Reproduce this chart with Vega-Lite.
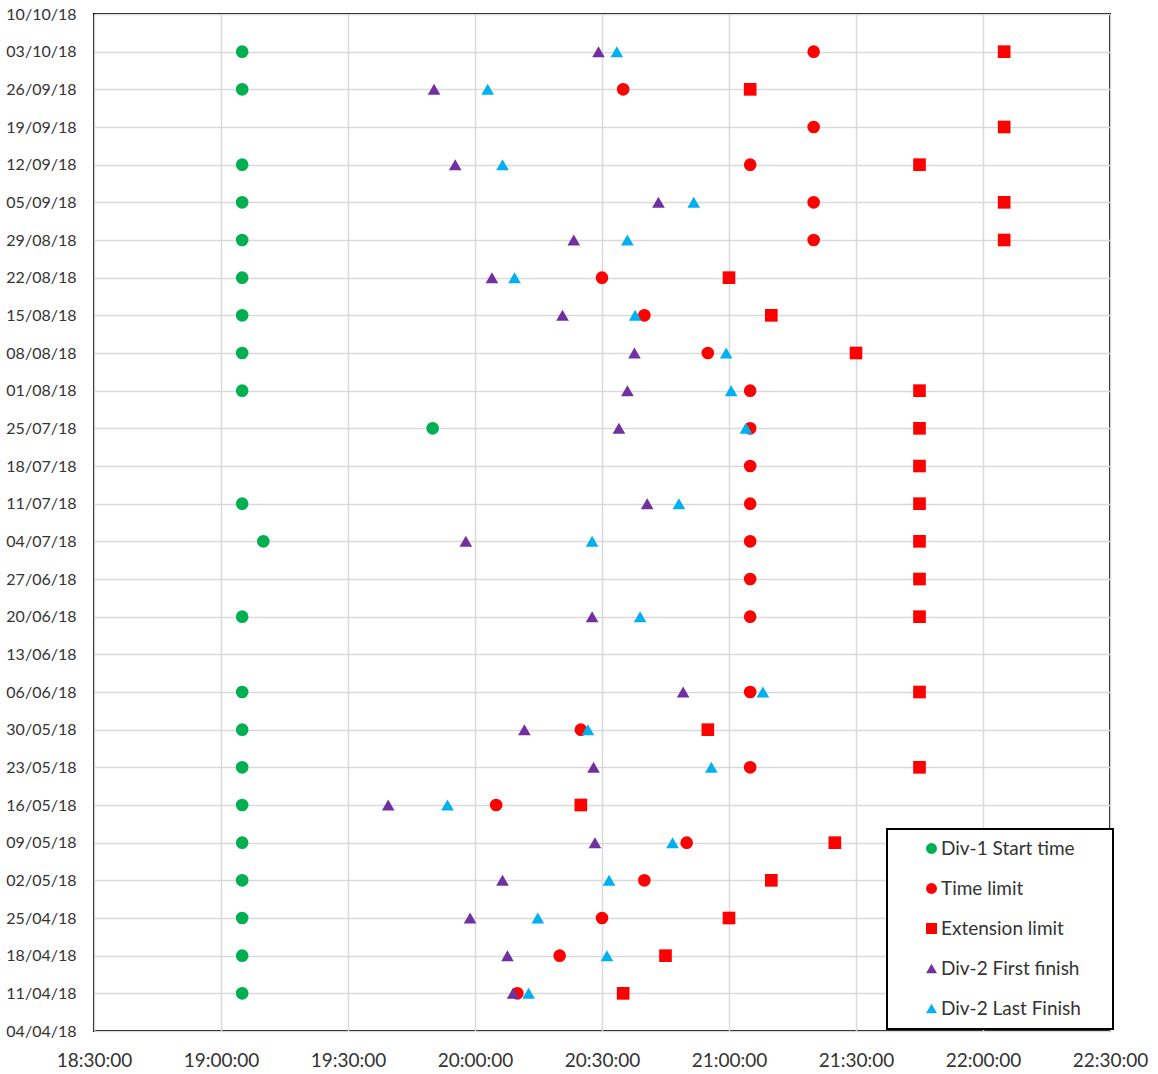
{
  "$schema": "https://vega.github.io/schema/vega-lite/v6.json",
  "width": 1016,
  "height": 1017,
  "autosize": "none",
  "padding": {"left": 94, "top": 14, "right": 48, "bottom": 43},
  "background": "white",
  "config": {
    "font": "Lato",
    "view": {"stroke": "black", "strokeWidth": 2},
    "legend": {"strokeColor": "black", "strokeWidth": 2, "fillColor": "white", "padding": 10, "symbolSize": 120, "symbolOffset": 25, "labelOffset": 0, "rowPadding": 20, "labelFontSize": 19, "labelColor": "#333333", "symbolStrokeWidth": 0, "titleOrient": "right", "titlePadding": 22, "titleFontSize": 18}
  },
  "data": {"values": [
    {"date": "2018-10-03T00:00:00", "series": "Div-1 Start time", "time": "2018-01-01T19:05:00"},
    {"date": "2018-10-03T00:00:00", "series": "Time limit", "time": "2018-01-01T21:20:00"},
    {"date": "2018-10-03T00:00:00", "series": "Extension limit", "time": "2018-01-01T22:05:00"},
    {"date": "2018-10-03T00:00:00", "series": "Div-2 First finish", "time": "2018-01-01T20:29:10"},
    {"date": "2018-10-03T00:00:00", "series": "Div-2 Last Finish", "time": "2018-01-01T20:33:30"},
    {"date": "2018-09-26T00:00:00", "series": "Div-1 Start time", "time": "2018-01-01T19:05:00"},
    {"date": "2018-09-26T00:00:00", "series": "Time limit", "time": "2018-01-01T20:35:00"},
    {"date": "2018-09-26T00:00:00", "series": "Extension limit", "time": "2018-01-01T21:05:00"},
    {"date": "2018-09-26T00:00:00", "series": "Div-2 First finish", "time": "2018-01-01T19:50:20"},
    {"date": "2018-09-26T00:00:00", "series": "Div-2 Last Finish", "time": "2018-01-01T20:03:00"},
    {"date": "2018-09-19T00:00:00", "series": "Time limit", "time": "2018-01-01T21:20:00"},
    {"date": "2018-09-19T00:00:00", "series": "Extension limit", "time": "2018-01-01T22:05:00"},
    {"date": "2018-09-12T00:00:00", "series": "Div-1 Start time", "time": "2018-01-01T19:05:00"},
    {"date": "2018-09-12T00:00:00", "series": "Time limit", "time": "2018-01-01T21:05:00"},
    {"date": "2018-09-12T00:00:00", "series": "Extension limit", "time": "2018-01-01T21:45:00"},
    {"date": "2018-09-12T00:00:00", "series": "Div-2 First finish", "time": "2018-01-01T19:55:20"},
    {"date": "2018-09-12T00:00:00", "series": "Div-2 Last Finish", "time": "2018-01-01T20:06:30"},
    {"date": "2018-09-05T00:00:00", "series": "Div-1 Start time", "time": "2018-01-01T19:05:00"},
    {"date": "2018-09-05T00:00:00", "series": "Time limit", "time": "2018-01-01T21:20:00"},
    {"date": "2018-09-05T00:00:00", "series": "Extension limit", "time": "2018-01-01T22:05:00"},
    {"date": "2018-09-05T00:00:00", "series": "Div-2 First finish", "time": "2018-01-01T20:43:20"},
    {"date": "2018-09-05T00:00:00", "series": "Div-2 Last Finish", "time": "2018-01-01T20:51:40"},
    {"date": "2018-08-29T00:00:00", "series": "Div-1 Start time", "time": "2018-01-01T19:05:00"},
    {"date": "2018-08-29T00:00:00", "series": "Time limit", "time": "2018-01-01T21:20:00"},
    {"date": "2018-08-29T00:00:00", "series": "Extension limit", "time": "2018-01-01T22:05:00"},
    {"date": "2018-08-29T00:00:00", "series": "Div-2 First finish", "time": "2018-01-01T20:23:20"},
    {"date": "2018-08-29T00:00:00", "series": "Div-2 Last Finish", "time": "2018-01-01T20:36:00"},
    {"date": "2018-08-22T00:00:00", "series": "Div-1 Start time", "time": "2018-01-01T19:05:00"},
    {"date": "2018-08-22T00:00:00", "series": "Time limit", "time": "2018-01-01T20:30:00"},
    {"date": "2018-08-22T00:00:00", "series": "Extension limit", "time": "2018-01-01T21:00:00"},
    {"date": "2018-08-22T00:00:00", "series": "Div-2 First finish", "time": "2018-01-01T20:04:00"},
    {"date": "2018-08-22T00:00:00", "series": "Div-2 Last Finish", "time": "2018-01-01T20:09:20"},
    {"date": "2018-08-15T00:00:00", "series": "Div-1 Start time", "time": "2018-01-01T19:05:00"},
    {"date": "2018-08-15T00:00:00", "series": "Time limit", "time": "2018-01-01T20:40:00"},
    {"date": "2018-08-15T00:00:00", "series": "Extension limit", "time": "2018-01-01T21:10:00"},
    {"date": "2018-08-15T00:00:00", "series": "Div-2 First finish", "time": "2018-01-01T20:20:40"},
    {"date": "2018-08-15T00:00:00", "series": "Div-2 Last Finish", "time": "2018-01-01T20:37:50"},
    {"date": "2018-08-08T00:00:00", "series": "Div-1 Start time", "time": "2018-01-01T19:05:00"},
    {"date": "2018-08-08T00:00:00", "series": "Time limit", "time": "2018-01-01T20:55:00"},
    {"date": "2018-08-08T00:00:00", "series": "Extension limit", "time": "2018-01-01T21:30:00"},
    {"date": "2018-08-08T00:00:00", "series": "Div-2 First finish", "time": "2018-01-01T20:37:40"},
    {"date": "2018-08-08T00:00:00", "series": "Div-2 Last Finish", "time": "2018-01-01T20:59:20"},
    {"date": "2018-08-01T00:00:00", "series": "Div-1 Start time", "time": "2018-01-01T19:05:00"},
    {"date": "2018-08-01T00:00:00", "series": "Time limit", "time": "2018-01-01T21:05:00"},
    {"date": "2018-08-01T00:00:00", "series": "Extension limit", "time": "2018-01-01T21:45:00"},
    {"date": "2018-08-01T00:00:00", "series": "Div-2 First finish", "time": "2018-01-01T20:36:00"},
    {"date": "2018-08-01T00:00:00", "series": "Div-2 Last Finish", "time": "2018-01-01T21:00:30"},
    {"date": "2018-07-25T00:00:00", "series": "Div-1 Start time", "time": "2018-01-01T19:50:00"},
    {"date": "2018-07-25T00:00:00", "series": "Time limit", "time": "2018-01-01T21:05:00"},
    {"date": "2018-07-25T00:00:00", "series": "Extension limit", "time": "2018-01-01T21:45:00"},
    {"date": "2018-07-25T00:00:00", "series": "Div-2 First finish", "time": "2018-01-01T20:34:00"},
    {"date": "2018-07-25T00:00:00", "series": "Div-2 Last Finish", "time": "2018-01-01T21:04:00"},
    {"date": "2018-07-18T00:00:00", "series": "Time limit", "time": "2018-01-01T21:05:00"},
    {"date": "2018-07-18T00:00:00", "series": "Extension limit", "time": "2018-01-01T21:45:00"},
    {"date": "2018-07-11T00:00:00", "series": "Div-1 Start time", "time": "2018-01-01T19:05:00"},
    {"date": "2018-07-11T00:00:00", "series": "Time limit", "time": "2018-01-01T21:05:00"},
    {"date": "2018-07-11T00:00:00", "series": "Extension limit", "time": "2018-01-01T21:45:00"},
    {"date": "2018-07-11T00:00:00", "series": "Div-2 First finish", "time": "2018-01-01T20:40:40"},
    {"date": "2018-07-11T00:00:00", "series": "Div-2 Last Finish", "time": "2018-01-01T20:48:10"},
    {"date": "2018-07-04T00:00:00", "series": "Div-1 Start time", "time": "2018-01-01T19:10:00"},
    {"date": "2018-07-04T00:00:00", "series": "Time limit", "time": "2018-01-01T21:05:00"},
    {"date": "2018-07-04T00:00:00", "series": "Extension limit", "time": "2018-01-01T21:45:00"},
    {"date": "2018-07-04T00:00:00", "series": "Div-2 First finish", "time": "2018-01-01T19:57:50"},
    {"date": "2018-07-04T00:00:00", "series": "Div-2 Last Finish", "time": "2018-01-01T20:27:40"},
    {"date": "2018-06-27T00:00:00", "series": "Time limit", "time": "2018-01-01T21:05:00"},
    {"date": "2018-06-27T00:00:00", "series": "Extension limit", "time": "2018-01-01T21:45:00"},
    {"date": "2018-06-20T00:00:00", "series": "Div-1 Start time", "time": "2018-01-01T19:05:00"},
    {"date": "2018-06-20T00:00:00", "series": "Time limit", "time": "2018-01-01T21:05:00"},
    {"date": "2018-06-20T00:00:00", "series": "Extension limit", "time": "2018-01-01T21:45:00"},
    {"date": "2018-06-20T00:00:00", "series": "Div-2 First finish", "time": "2018-01-01T20:27:40"},
    {"date": "2018-06-20T00:00:00", "series": "Div-2 Last Finish", "time": "2018-01-01T20:39:00"},
    {"date": "2018-06-06T00:00:00", "series": "Div-1 Start time", "time": "2018-01-01T19:05:00"},
    {"date": "2018-06-06T00:00:00", "series": "Time limit", "time": "2018-01-01T21:05:00"},
    {"date": "2018-06-06T00:00:00", "series": "Extension limit", "time": "2018-01-01T21:45:00"},
    {"date": "2018-06-06T00:00:00", "series": "Div-2 First finish", "time": "2018-01-01T20:49:10"},
    {"date": "2018-06-06T00:00:00", "series": "Div-2 Last Finish", "time": "2018-01-01T21:08:00"},
    {"date": "2018-05-30T00:00:00", "series": "Div-1 Start time", "time": "2018-01-01T19:05:00"},
    {"date": "2018-05-30T00:00:00", "series": "Time limit", "time": "2018-01-01T20:25:00"},
    {"date": "2018-05-30T00:00:00", "series": "Extension limit", "time": "2018-01-01T20:55:00"},
    {"date": "2018-05-30T00:00:00", "series": "Div-2 First finish", "time": "2018-01-01T20:11:40"},
    {"date": "2018-05-30T00:00:00", "series": "Div-2 Last Finish", "time": "2018-01-01T20:26:40"},
    {"date": "2018-05-23T00:00:00", "series": "Div-1 Start time", "time": "2018-01-01T19:05:00"},
    {"date": "2018-05-23T00:00:00", "series": "Time limit", "time": "2018-01-01T21:05:00"},
    {"date": "2018-05-23T00:00:00", "series": "Extension limit", "time": "2018-01-01T21:45:00"},
    {"date": "2018-05-23T00:00:00", "series": "Div-2 First finish", "time": "2018-01-01T20:28:00"},
    {"date": "2018-05-23T00:00:00", "series": "Div-2 Last Finish", "time": "2018-01-01T20:55:50"},
    {"date": "2018-05-16T00:00:00", "series": "Div-1 Start time", "time": "2018-01-01T19:05:00"},
    {"date": "2018-05-16T00:00:00", "series": "Time limit", "time": "2018-01-01T20:05:00"},
    {"date": "2018-05-16T00:00:00", "series": "Extension limit", "time": "2018-01-01T20:25:00"},
    {"date": "2018-05-16T00:00:00", "series": "Div-2 First finish", "time": "2018-01-01T19:39:30"},
    {"date": "2018-05-16T00:00:00", "series": "Div-2 Last Finish", "time": "2018-01-01T19:53:30"},
    {"date": "2018-05-09T00:00:00", "series": "Div-1 Start time", "time": "2018-01-01T19:05:00"},
    {"date": "2018-05-09T00:00:00", "series": "Time limit", "time": "2018-01-01T20:50:00"},
    {"date": "2018-05-09T00:00:00", "series": "Extension limit", "time": "2018-01-01T21:25:00"},
    {"date": "2018-05-09T00:00:00", "series": "Div-2 First finish", "time": "2018-01-01T20:28:20"},
    {"date": "2018-05-09T00:00:00", "series": "Div-2 Last Finish", "time": "2018-01-01T20:46:40"},
    {"date": "2018-05-02T00:00:00", "series": "Div-1 Start time", "time": "2018-01-01T19:05:00"},
    {"date": "2018-05-02T00:00:00", "series": "Time limit", "time": "2018-01-01T20:40:00"},
    {"date": "2018-05-02T00:00:00", "series": "Extension limit", "time": "2018-01-01T21:10:00"},
    {"date": "2018-05-02T00:00:00", "series": "Div-2 First finish", "time": "2018-01-01T20:06:30"},
    {"date": "2018-05-02T00:00:00", "series": "Div-2 Last Finish", "time": "2018-01-01T20:31:40"},
    {"date": "2018-04-25T00:00:00", "series": "Div-1 Start time", "time": "2018-01-01T19:05:00"},
    {"date": "2018-04-25T00:00:00", "series": "Time limit", "time": "2018-01-01T20:30:00"},
    {"date": "2018-04-25T00:00:00", "series": "Extension limit", "time": "2018-01-01T21:00:00"},
    {"date": "2018-04-25T00:00:00", "series": "Div-2 First finish", "time": "2018-01-01T19:58:50"},
    {"date": "2018-04-25T00:00:00", "series": "Div-2 Last Finish", "time": "2018-01-01T20:14:50"},
    {"date": "2018-04-18T00:00:00", "series": "Div-1 Start time", "time": "2018-01-01T19:05:00"},
    {"date": "2018-04-18T00:00:00", "series": "Time limit", "time": "2018-01-01T20:20:00"},
    {"date": "2018-04-18T00:00:00", "series": "Extension limit", "time": "2018-01-01T20:45:00"},
    {"date": "2018-04-18T00:00:00", "series": "Div-2 First finish", "time": "2018-01-01T20:07:40"},
    {"date": "2018-04-18T00:00:00", "series": "Div-2 Last Finish", "time": "2018-01-01T20:31:10"},
    {"date": "2018-04-11T00:00:00", "series": "Div-1 Start time", "time": "2018-01-01T19:05:00"},
    {"date": "2018-04-11T00:00:00", "series": "Time limit", "time": "2018-01-01T20:10:00"},
    {"date": "2018-04-11T00:00:00", "series": "Extension limit", "time": "2018-01-01T20:35:00"},
    {"date": "2018-04-11T00:00:00", "series": "Div-2 First finish", "time": "2018-01-01T20:09:00"},
    {"date": "2018-04-11T00:00:00", "series": "Div-2 Last Finish", "time": "2018-01-01T20:12:40"}
  ]},
  "mark": {"type": "point", "filled": true, "opacity": 1, "size": 160},
  "encoding": {
    "x": {
      "field": "time", "type": "temporal",
      "scale": {"domain": [{"year": 2018, "month": 1, "date": 1, "hours": 18, "minutes": 30}, {"year": 2018, "month": 1, "date": 1, "hours": 22, "minutes": 30}], "nice": false},
      "axis": {
        "title": null, "format": "%H:%M:%S", "labelFontSize": 19, "labelPadding": 20, "ticks": false, "domain": false,
        "grid": true, "gridColor": "#d9d9d9", "gridWidth": 1.5, "labelColor": "#333333", "labelFlush": false, "labelOverlap": false,
        "values": [
          {"year": 2018, "month": 1, "date": 1, "hours": 18, "minutes": 30},
          {"year": 2018, "month": 1, "date": 1, "hours": 19, "minutes": 0},
          {"year": 2018, "month": 1, "date": 1, "hours": 19, "minutes": 30},
          {"year": 2018, "month": 1, "date": 1, "hours": 20, "minutes": 0},
          {"year": 2018, "month": 1, "date": 1, "hours": 20, "minutes": 30},
          {"year": 2018, "month": 1, "date": 1, "hours": 21, "minutes": 0},
          {"year": 2018, "month": 1, "date": 1, "hours": 21, "minutes": 30},
          {"year": 2018, "month": 1, "date": 1, "hours": 22, "minutes": 0},
          {"year": 2018, "month": 1, "date": 1, "hours": 22, "minutes": 30}
        ]
      }
    },
    "y": {
      "field": "date", "type": "temporal",
      "scale": {"domain": [{"year": 2018, "month": 4, "date": 4}, {"year": 2018, "month": 10, "date": 10}], "nice": false},
      "axis": {
        "title": null, "format": "%d/%m/%y", "labelFontSize": 16, "labelPadding": 18, "ticks": false, "domain": false,
        "grid": true, "gridColor": "#d9d9d9", "gridWidth": 1.5, "labelColor": "#333333", "labelFlush": false, "labelOverlap": false,
        "values": [
          {"year": 2018, "month": 4, "date": 4}, {"year": 2018, "month": 4, "date": 11}, {"year": 2018, "month": 4, "date": 18}, {"year": 2018, "month": 4, "date": 25},
          {"year": 2018, "month": 5, "date": 2}, {"year": 2018, "month": 5, "date": 9}, {"year": 2018, "month": 5, "date": 16}, {"year": 2018, "month": 5, "date": 23}, {"year": 2018, "month": 5, "date": 30},
          {"year": 2018, "month": 6, "date": 6}, {"year": 2018, "month": 6, "date": 13}, {"year": 2018, "month": 6, "date": 20}, {"year": 2018, "month": 6, "date": 27},
          {"year": 2018, "month": 7, "date": 4}, {"year": 2018, "month": 7, "date": 11}, {"year": 2018, "month": 7, "date": 18}, {"year": 2018, "month": 7, "date": 25},
          {"year": 2018, "month": 8, "date": 1}, {"year": 2018, "month": 8, "date": 8}, {"year": 2018, "month": 8, "date": 15}, {"year": 2018, "month": 8, "date": 22}, {"year": 2018, "month": 8, "date": 29},
          {"year": 2018, "month": 9, "date": 5}, {"year": 2018, "month": 9, "date": 12}, {"year": 2018, "month": 9, "date": 19}, {"year": 2018, "month": 9, "date": 26},
          {"year": 2018, "month": 10, "date": 3}, {"year": 2018, "month": 10, "date": 10}
        ]
      }
    },
    "color": {
      "field": "series", "type": "nominal",
      "scale": {"domain": ["Div-1 Start time", "Time limit", "Extension limit", "Div-2 First finish", "Div-2 Last Finish"], "range": ["#00B050", "#FF0000", "#FF0000", "#7030A0", "#00B0F0"]},
      "legend": {"title": " ", "orient": "none", "legendX": 793, "legendY": 815}
    },
    "shape": {
      "field": "series", "type": "nominal",
      "scale": {"domain": ["Div-1 Start time", "Time limit", "Extension limit", "Div-2 First finish", "Div-2 Last Finish"], "range": ["circle", "circle", "square", "triangle-up", "triangle-up"]},
      "legend": {"title": " ", "orient": "none", "legendX": 793, "legendY": 815}
    }
  }
}
